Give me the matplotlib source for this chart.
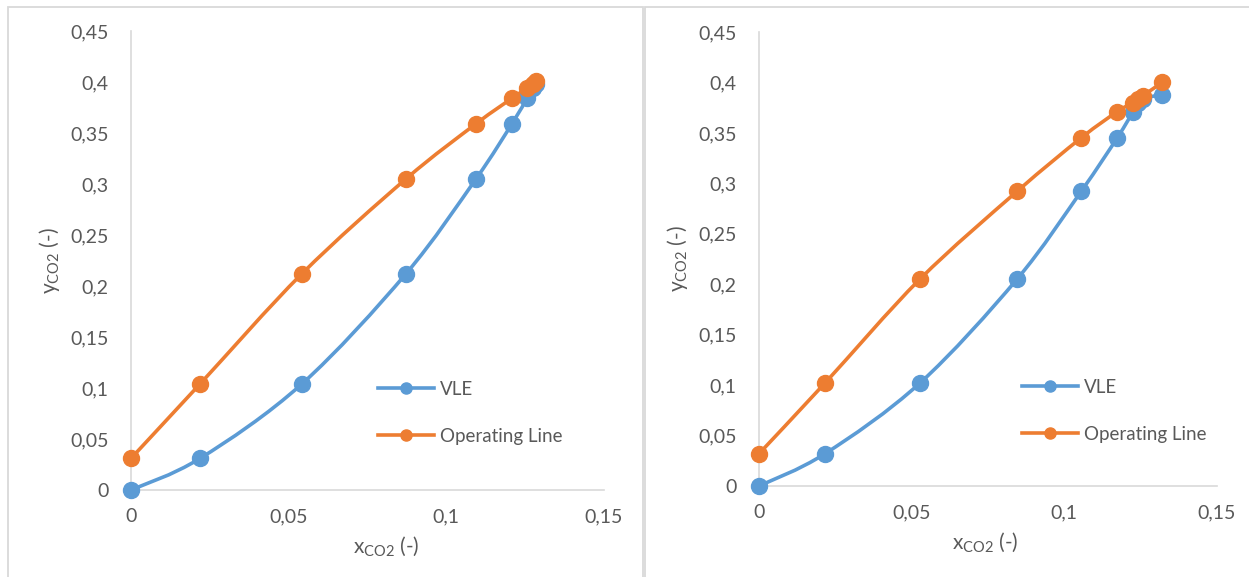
import matplotlib.pyplot as plt
from matplotlib.path import Path
from matplotlib.patches import PathPatch, Rectangle
from matplotlib.lines import Line2D
import numpy as np

plt.rcParams['font.family'] = ['Lato', 'DejaVu Sans']
plt.rcParams['mathtext.fontset'] = 'custom'
plt.rcParams['mathtext.rm'] = 'Lato'

# Column 1
x_izq = [0, 0.0219, 0.0542, 0.0872, 0.1094, 0.1208, 0.1256, 0.1275, 0.1285]
vle_izq = [0, 0.031, 0.104, 0.212, 0.305, 0.359, 0.384, 0.394, 0.398]
op_izq = [0.031, 0.104, 0.212, 0.305, 0.359, 0.384, 0.394, 0.398, 0.401]

# Column 2
x_der = [0, 0.0216, 0.0527, 0.0845, 0.1055, 0.1173, 0.1225, 0.1241, 0.1258, 0.132]
vle_der = [0, 0.032, 0.102, 0.205, 0.292, 0.345, 0.371, 0.380, 0.384, 0.388]
op_der = [0.032, 0.102, 0.205, 0.292, 0.345, 0.371, 0.380, 0.384, 0.387, 0.400]

y_ticks = [0, 0.05, 0.1, 0.15, 0.2, 0.25, 0.3, 0.35, 0.4, 0.45]
x_ticks = [0, 0.05, 0.1, 0.15]

AZUL = '#5B9BD5'
NARANJA = '#ED7D31'
GRIS = '#595959'
BORDE = '#D9D9D9'


def coma(v):
    return '{:g}'.format(round(v, 2)).replace('.', ',')


def curva_suave(ax, xs, ys, color):
    # linea suavizada tipo Excel (Bezier con tangentes Catmull-Rom)
    p = np.column_stack([xs, ys])
    n = len(p)
    verts = [p[0]]
    codes = [Path.MOVETO]
    for i in range(n - 1):
        p0 = p[max(i - 1, 0)]
        p1 = p[i]
        p2 = p[i + 1]
        p3 = p[min(i + 2, n - 1)]
        c1 = p1 + (p2 - p0) / 6
        c2 = p2 - (p3 - p1) / 6
        verts += [c1, c2, p2]
        codes += [Path.CURVE4] * 3
    ax.add_patch(PathPatch(Path(verts, codes), facecolor='none',
                           edgecolor=color, lw=2.6, capstyle='round', zorder=2))
    ax.plot(xs, ys, 'o', color=color, ms=11.5, zorder=3)


def grafico(rect, xs, vle, op, pos_leyenda, pos_xlabel):
    ax = fig.add_axes(rect)
    curva_suave(ax, xs, vle, AZUL)
    curva_suave(ax, xs, op, NARANJA)
    ax.set_xlim(0, 0.15)
    ax.set_ylim(0, 0.45)
    ax.set_xticks(x_ticks)
    ax.set_yticks(y_ticks)
    ax.set_xticklabels([coma(v) for v in x_ticks])
    ax.set_yticklabels([coma(v) for v in y_ticks])
    ax.tick_params(length=0, colors=GRIS, labelsize=14)
    ax.tick_params(axis='x', pad=13)
    ax.tick_params(axis='y', pad=16)
    for s in ['top', 'right']:
        ax.spines[s].set_visible(False)
    for s in ['left', 'bottom']:
        ax.spines[s].set_color(BORDE)
        ax.spines[s].set_linewidth(1.2)
        ax.spines[s].set_zorder(0)
    ax.set_xlabel(r'x$_{\mathregular{CO2}}$ (-)', color=GRIS, fontsize=15, labelpad=7)
    ax.set_ylabel(r'y$_{\mathregular{CO2}}$ (-)', color=GRIS, fontsize=15, labelpad=6)
    ax.xaxis.label.set_x(pos_xlabel)
    ax.patch.set_visible(False)
    handles = [Line2D([], [], color=AZUL, lw=2.6, marker='o', ms=8),
               Line2D([], [], color=NARANJA, lw=2.6, marker='o', ms=8)]
    ax.legend(handles, ['VLE', 'Operating Line'], loc='center left',
              bbox_to_anchor=pos_leyenda, frameon=False, fontsize=13.5,
              labelcolor=GRIS, handlelength=3.0, handletextpad=0.3,
              labelspacing=1.6, borderaxespad=0, borderpad=0)
    for art in ax.patches + ax.lines:
        art.set_clip_on(False)
    return ax


fig = plt.figure(figsize=(12.49, 5.77), dpi=100)

# marcos de cada grafico
W, H = 1249, 577
fig.add_artist(Rectangle((8 / W, -0.1), (643 - 8) / W, 1.1 - 7 / H,
                         transform=fig.transFigure, fill=False,
                         edgecolor=BORDE, lw=1.3))
fig.add_artist(Rectangle((645 / W, -0.1), (1262 - 645) / W, 1.1 - 7 / H,
                         transform=fig.transFigure, fill=False,
                         edgecolor=BORDE, lw=1.3))

grafico([131 / W, 1 - 490 / H, 473 / W, 459 / H], x_izq, vle_izq, op_izq,
        (0.522, 0.168), 0.54)
grafico([759 / W, 1 - 486 / H, 458 / W, 454 / H], x_der, vle_der, op_der,
        (0.574, 0.166), 0.495)

fig.savefig('out.png', dpi=100)
